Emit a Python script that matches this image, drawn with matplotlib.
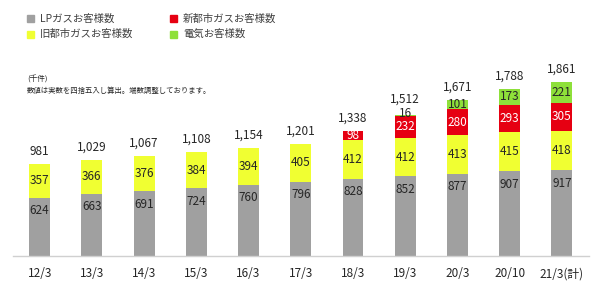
import matplotlib
matplotlib.use('Agg')
import matplotlib.pyplot as plt
from matplotlib.patches import Rectangle
import numpy as np

plt.rcParams['font.family'] = ['Noto Sans CJK JP', 'DejaVu Sans']

periods = ['12/3', '13/3', '14/3', '15/3', '16/3', '17/3', '18/3', '19/3', '20/3', '20/10', '21/3(計)']
lp_gas = [624, 663, 691, 724, 760, 796, 828, 852, 877, 907, 917]
old_city_gas = [357, 366, 376, 384, 394, 405, 412, 412, 413, 415, 418]
new_city_gas = [0, 0, 0, 0, 0, 0, 98, 232, 280, 293, 305]
electric = [0, 0, 0, 0, 0, 0, 0, 16, 101, 173, 221]
totals = [981, 1029, 1067, 1108, 1154, 1201, 1338, 1512, 1671, 1788, 1861]

series_names = ['LPガスお客様数', '旧都市ガスお客様数', '新都市ガスお客様数', '電気お客様数']
colors = ['#A0A0A0', '#F0FF32', '#E60012', '#8EE03A']
text_colors = ['#262626', '#262626', 'white', '#262626']

fig = plt.figure(figsize=(6.02, 2.85), dpi=100)
ax = fig.add_axes([13 / 602, 29 / 285, 576 / 602, 196.4 / 285])

x = np.arange(len(periods))
width = 0.40
bottom = np.zeros(len(periods))
for k, vals in enumerate([lp_gas, old_city_gas, new_city_gas, electric]):
    vals = np.array(vals, dtype=float)
    ax.bar(x, vals, width, bottom=bottom, color=colors[k], edgecolor='none', zorder=2)
    for i, v in enumerate(vals):
        if v <= 0:
            continue
        if k == 0:
            # LP labels sit near the top of the gray block
            ax.annotate(f'{int(v)}', (x[i], bottom[i] + v), xytext=(0, -13),
                        textcoords='offset pixels', ha='center', va='center',
                        fontsize=8.5, color=text_colors[k])
        elif k == 3 and v < 40:
            ax.annotate(f'{int(v)}', (x[i], bottom[i] + v), xytext=(0, 1),
                        textcoords='offset pixels', ha='center', va='center',
                        fontsize=8.5, color=text_colors[k])
        else:
            ax.text(x[i], bottom[i] + v / 2, f'{int(v)}', ha='center', va='center',
                    fontsize=8.5, color=text_colors[k])
    bottom += vals

for i, t in enumerate(totals):
    off = 15 if electric[i] and electric[i] < 40 else 13
    ax.annotate(f'{t:,}', (x[i], bottom[i]), xytext=(0, off), textcoords='offset pixels',
                ha='center', va='center', fontsize=8.5, color='#262626')

ax.set_xlim(-0.51, 10.52)
ax.set_ylim(0, 2100)
ax.set_xticks(x)
ax.set_xticklabels(periods, fontsize=8.5, color='#262626')
ax.tick_params(axis='x', length=0, pad=8)
ax.set_yticks([])
for s in ['top', 'right', 'left']:
    ax.spines[s].set_visible(False)
ax.spines['bottom'].set_color('#D0D0D0')
ax.spines['bottom'].set_linewidth(1.0)
ax.patch.set_alpha(0)

# legend
leg_pos = [(27, 18.5), (27, 34), (170, 18.5), (170, 34)]
for k, (px, py) in enumerate(leg_pos):
    fig.patches.append(Rectangle((px / 602, 1 - (py + 3.5) / 285), 7 / 602, 7 / 285,
                                 transform=fig.transFigure, color=colors[k]))
    fig.text((px + 13) / 602, 1 - py / 285, series_names[k], fontsize=7.5,
             color='#404040', va='center', ha='left')

fig.text(27 / 602, 1 - 80 / 285, '(千件)', fontsize=5.5, color='#262626', va='center')
fig.text(27 / 602, 1 - 91 / 285, '数値は実数を四捨五入し算出。端数調整しております。',
         fontsize=5.3, color='#262626', va='center')

fig.savefig('out.png', dpi=100)
